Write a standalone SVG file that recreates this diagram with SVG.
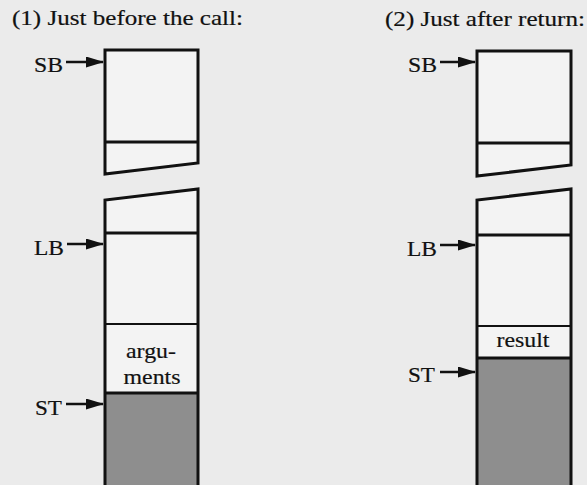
<svg xmlns="http://www.w3.org/2000/svg" width="587" height="485" viewBox="0 0 587 485">
<defs>
<style>
.t,.lbl,.c{font-family:"Liberation Serif","Times New Roman",serif;font-size:22px;fill:#111;stroke:#111;stroke-width:0.2}
.lbl{text-anchor:end}
.c{text-anchor:middle}
.box{fill:#f3f3f3;stroke:#111;stroke-width:3;stroke-linejoin:miter}
.div{stroke:#111;stroke-width:3;fill:none}
.thin{stroke:#111;stroke-width:2;fill:none}
.gray{fill:#8e8e8e}
.arr{stroke:#111;stroke-width:2.5;fill:none;marker-end:url(#ah)}
</style>
<marker id="ah" markerWidth="18" markerHeight="11" refX="17" refY="5.5" orient="auto" markerUnits="userSpaceOnUse">
<path d="M0,0 L18,5.5 L0,11 Z" fill="#111"/>
</marker>
</defs>
<rect width="587" height="485" fill="#ebebeb"/>

<g id="title1"><text class="t" x="12" y="25" textLength="231" lengthAdjust="spacingAndGlyphs">(1)  Just before the call:</text></g>
<g id="title2"><text class="t" x="385" y="26" textLength="200" lengthAdjust="spacingAndGlyphs">(2)  Just after return:</text></g>

<g id="stack1-top">
<path class="box" d="M105,174 L105,50 L198,50 L198,163 Z"/>
<line class="div" x1="105" y1="142" x2="198" y2="142"/>
</g>
<g id="stack1-bottom">
<path d="M105,485 L105,200 L198,189 L198,485 Z" fill="#f3f3f3"/>
<rect class="gray" x="105" y="393" width="93" height="92"/>
<line class="div" x1="105" y1="233" x2="198" y2="233"/>
<line class="thin" x1="105" y1="324" x2="198" y2="324"/>
<line class="div" x1="105" y1="393" x2="198" y2="393"/>
<path class="div" d="M105,485 L105,200 L198,189 L198,485"/>
<text class="c" x="151" y="358" textLength="50" lengthAdjust="spacingAndGlyphs">argu-</text>
<text class="c" x="152" y="384" textLength="57" lengthAdjust="spacingAndGlyphs">ments</text>
</g>

<g id="stack2-top">
<path class="box" d="M477,176 L477,51 L571,51 L571,165 Z"/>
<line class="div" x1="477" y1="143" x2="571" y2="143"/>
</g>
<g id="stack2-bottom">
<path d="M477,485 L477,200 L571,189 L571,485 Z" fill="#f3f3f3"/>
<rect class="gray" x="477" y="358" width="94" height="127"/>
<line class="div" x1="477" y1="235" x2="571" y2="235"/>
<line class="thin" x1="477" y1="326" x2="571" y2="326"/>
<line class="div" x1="477" y1="358" x2="571" y2="358"/>
<path class="div" d="M477,485 L477,200 L571,189 L571,485"/>
<text class="c" x="523" y="347" textLength="53" lengthAdjust="spacingAndGlyphs">result</text>
</g>

<g id="ptr-labels">
<text class="lbl" x="63" y="72" textLength="29" lengthAdjust="spacingAndGlyphs">SB</text>
<text class="lbl" x="64" y="255" textLength="30" lengthAdjust="spacingAndGlyphs">LB</text>
<text class="lbl" x="62" y="415" textLength="27" lengthAdjust="spacingAndGlyphs">ST</text>
<text class="lbl" x="437" y="72" textLength="29" lengthAdjust="spacingAndGlyphs">SB</text>
<text class="lbl" x="437" y="256" textLength="30" lengthAdjust="spacingAndGlyphs">LB</text>
<text class="lbl" x="435" y="382" textLength="27" lengthAdjust="spacingAndGlyphs">ST</text>
</g>

<g id="connectors">
<line class="arr" x1="66" y1="62" x2="103" y2="62"/>
<line class="arr" x1="67" y1="244" x2="103" y2="244"/>
<line class="arr" x1="66" y1="404" x2="103" y2="404"/>
<line class="arr" x1="440" y1="62" x2="475" y2="62"/>
<line class="arr" x1="440" y1="245" x2="475" y2="245"/>
<line class="arr" x1="440" y1="372" x2="475" y2="372"/>
</g>
</svg>
